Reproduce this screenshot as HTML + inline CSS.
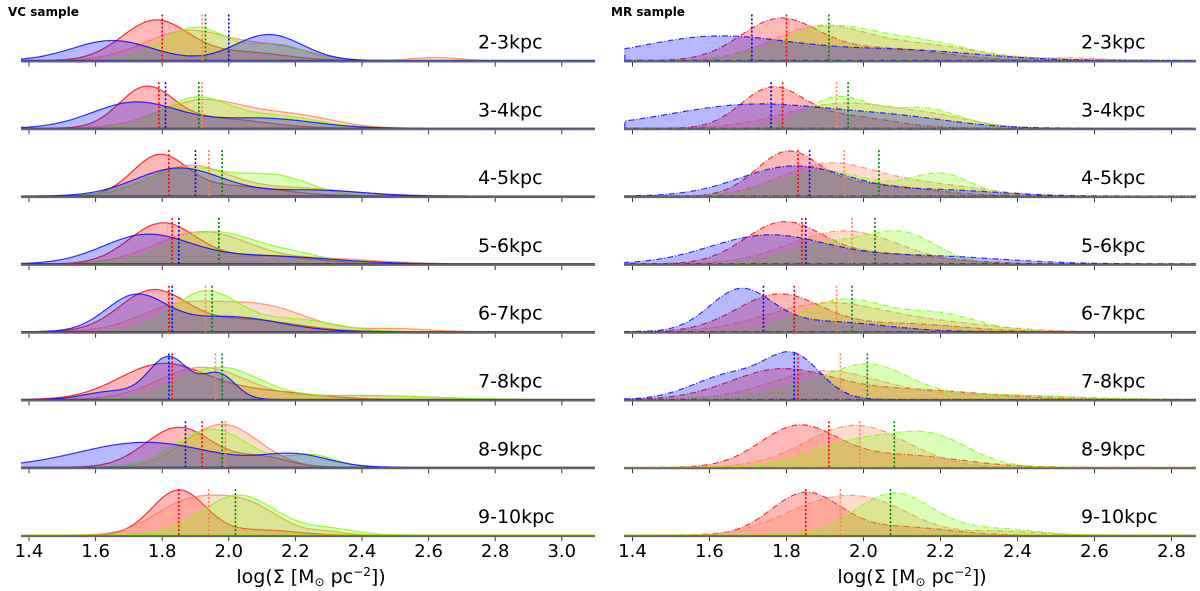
<!DOCTYPE html>
<html><head><meta charset="utf-8"><style>
body{margin:0;background:#fff;}
svg{display:block;font-family:"DejaVu Sans","Liberation Sans",sans-serif;}
</style></head><body>
<svg id="chart" width="1200" height="591" viewBox="0 0 1200 591"></svg>
<script>
// ---- data ----
const rowLabels = ["2-3kpc","3-4kpc","4-5kpc","5-6kpc","6-7kpc","7-8kpc","8-9kpc","9-10kpc"];
const tickLeft = [1.4,1.6,1.8,2.0,2.2,2.4,2.6,2.8,3.0];
const tickRight = [1.4,1.6,1.8,2.0,2.2,2.4,2.6,2.8];
// components per row: [mean, sd, amplitude]
const vcRed = [[[1.78,0.1,40],[2.05,0.12,8]],[[1.75,0.08,38],[1.95,0.15,10]],[[1.79,0.08,38],[2.0,0.15,10]],[[1.8,0.1,40],[2.1,0.15,8]],[[1.77,0.1,40],[2.05,0.15,12]],[[1.8,0.13,35],[2.1,0.15,8]],[[1.85,0.1,40],[2.1,0.08,10]],[[1.85,0.08,45],[2.1,0.1,5]]];
const vcOrange = [[[1.88,0.13,30],[2.15,0.1,12],[2.62,0.07,3]],[[1.92,0.13,28],[2.2,0.12,12]],[[1.88,0.12,30],[2.2,0.15,8]],[[1.92,0.14,32],[2.3,0.15,5]],[[1.85,0.12,25],[2.1,0.13,25],[2.5,0.1,3]],[[1.92,0.13,32],[2.4,0.2,4]],[[1.98,0.11,43]],[[1.87,0.1,30],[2.05,0.1,30],[2.3,0.05,3]]];
const vcGreen = [[[1.9,0.1,33],[2.15,0.08,15]],[[1.9,0.1,30],[2.15,0.12,12]],[[1.88,0.13,28],[2.15,0.1,18]],[[1.95,0.13,32],[2.2,0.1,8]],[[1.93,0.1,40],[2.2,0.12,12]],[[1.97,0.12,32],[2.4,0.2,4]],[[1.95,0.11,38],[2.25,0.07,12]],[[2.03,0.11,40],[2.3,0.08,6]]];
const vcBlue = [[[1.65,0.12,20],[2.12,0.1,26]],[[1.72,0.13,26],[2.1,0.15,10]],[[1.85,0.13,28],[2.25,0.15,6]],[[1.75,0.13,28],[2.1,0.2,8]],[[1.72,0.09,35],[2.0,0.15,15]],[[1.82,0.06,42],[1.97,0.05,25],[1.65,0.08,8]],[[1.75,0.2,25],[2.2,0.1,12]],null];
const vcMedRed = [1.80,1.79,1.82,1.83,1.82,1.83,1.92,1.85];
const vcMedOrange = [1.92,1.92,1.94,1.97,1.93,1.96,1.99,1.94];
const vcMedGreen = [1.93,1.91,1.98,1.97,1.95,1.98,1.98,2.02];
const vcMedBlue = [2.00,1.81,1.90,1.85,1.83,1.82,1.87,null];

const mrRed = [[[1.78,0.1,40],[2.05,0.15,12]],[[1.76,0.08,38],[1.95,0.12,12]],[[1.8,0.08,40],[2.0,0.15,12]],[[1.79,0.1,40],[2.05,0.15,10]],[[1.78,0.11,37],[2.1,0.15,8]],[[1.78,0.13,28],[2.1,0.2,10]],[[1.83,0.1,40],[2.1,0.15,12]],[[1.85,0.09,42],[2.1,0.12,8]]];
const mrOrange = [[[1.88,0.12,32],[2.15,0.15,15],[2.55,0.08,2]],[[1.95,0.15,25],[2.2,0.1,8]],[[1.9,0.12,30],[2.15,0.15,12]],[[1.95,0.14,33]],[[1.9,0.15,28],[2.2,0.15,8]],[[1.9,0.14,28],[2.3,0.2,5]],[[1.98,0.13,42]],[[1.9,0.12,30],[2.05,0.1,20],[2.35,0.1,4]]];
const mrGreen = [[[1.9,0.12,32],[2.15,0.13,18]],[[1.93,0.08,30],[2.15,0.1,20]],[[1.9,0.12,25],[2.2,0.08,22]],[[1.9,0.1,20],[2.1,0.09,30]],[[1.95,0.11,32],[2.2,0.1,17]],[[2.02,0.1,30],[1.85,0.12,10],[2.3,0.2,5]],[[1.98,0.12,25],[2.18,0.1,28]],[[2.08,0.1,42],[2.35,0.1,6]]];
const mrBlue = [[[1.62,0.2,24],[2.1,0.2,10]],[[1.72,0.22,24],[2.1,0.15,8]],[[1.82,0.14,30],[2.2,0.15,6]],[[1.75,0.15,28],[2.15,0.2,8]],[[1.68,0.08,40],[1.9,0.15,10]],[[1.82,0.07,40],[1.66,0.1,25]],null,null];
const mrMedRed = [1.80,1.79,1.83,1.84,1.82,1.83,1.91,1.85];
const mrMedOrange = [1.91,1.93,1.95,1.97,1.93,1.94,1.99,1.94];
const mrMedGreen = [1.91,1.96,2.04,2.03,1.97,2.01,2.08,2.07];
const mrMedBlue = [1.71,1.76,1.86,1.85,1.74,1.82,null,null];

// ---- drawing ----
const NS="http://www.w3.org/2000/svg";
const svg=document.getElementById('chart');
function el(tag,attrs,parent){const e=document.createElementNS(NS,tag);for(const k in attrs)e.setAttribute(k,attrs[k]);(parent||svg).appendChild(e);return e;}
function base(i){return 60.5+i*67.8;}
const colors={red:["#ff0000","#ff0000","#ff0000"],orange:["#ff7f50","#ff7f50","#ff7f50"],green:["#7fff00","#7fff00","#008000"],blue:["#0000ff","#0000ff","#0000ff"]};
function dens(comps,v){let s=0;for(const c of comps)s+=c[2]*Math.exp(-0.5*((v-c[0])/c[1])**2);return s;}

function panel(p){
  const g=el('g',{});
  
  
  const clipId='clip-'+p.name;
  const cp=el('clipPath',{id:clipId},g);
  el('rect',{x:p.x0,y:0,width:p.x1-p.x0,height:591},cp);
  const t=el('text',{x:p.titleX,y:16,'font-size':12,'font-weight':'bold',fill:'#000'},g);
  t.textContent=p.title;
  
  
  const sx=v=>p.xa+(v-1.4)*p.k;
  const series=[['red',p.red,p.medRed],['orange',p.orange,p.medOrange],['green',p.green,p.medGreen],['blue',p.blue,p.medBlue]];
  for(let i=0;i<rowLabels.length;i++){
    const b=base(i);
    const rg=el('g',{'clip-path':'url(#'+clipId+')'},g);
    
    
    for(const [nm,arr,med] of series){
      const comps=arr[i]; if(!comps) continue;
      let d='M'+sx(p.vmin).toFixed(1)+','+b;
      for(let v=p.vmin;v<=p.vmax+1e-9;v+=0.005){d+=' L'+sx(v).toFixed(1)+','+(b-dens(comps,v)).toFixed(1);}
      d+=' L'+sx(p.vmax).toFixed(1)+','+b+' Z';
      const path=el('path',{d:d,fill:colors[nm][0],'fill-opacity':0.28,stroke:colors[nm][1],'stroke-width':1.2,'stroke-opacity':0.8,'stroke-dasharray':p.dash},rg);
      
      
    }
    for(const [nm,arr,med] of series){
      if(med[i]==null) continue;
      const x=sx(med[i]);
      const ln=el('line',{x1:x,x2:x,y1:b,y2:b-46,stroke:colors[nm][2],'stroke-width':1.6,'stroke-dasharray':'2,2'},rg);
      
      
    }
    const ax=el('line',{x1:p.x0,x2:p.x1,y1:b+1,y2:b+1,stroke:'#666',"stroke-width":2},g);
    
    
    for(const tv of p.ticks){
      const tk=el('line',{x1:sx(tv),x2:sx(tv),y1:b+2,y2:b+6,stroke:'#333','stroke-width':1},g);
      
      
    }
    const lb=el('text',{x:p.labelX,y:b-12,'font-size':19,fill:'#000'},g);
    lb.textContent=rowLabels[i];
    
    
  }
  for(const tv of p.ticks){
    const tl=el('text',{x:sx(tv),y:557,'font-size':18,'text-anchor':'middle',fill:'#000'},g);
    tl.textContent=tv.toFixed(1);
    
    
  }
  const xl=el('text',{x:p.xlabelX,y:583,'font-size':19,'text-anchor':'middle',fill:'#000'},g);
  xl.innerHTML='log(Σ [M<tspan font-size="12" dy="3">⊙</tspan><tspan dy="-3"> pc</tspan><tspan font-size="12" dy="-7">−2</tspan><tspan dy="7">])</tspan>';
  
  
}
panel({name:'vc-panel',title:'VC sample',titleX:8,x0:21,x1:595,xa:29,k:333,vmin:1.3,vmax:3.15,ticks:tickLeft,labelX:478,xlabelX:311,dash:'none',
  red:vcRed,orange:vcOrange,green:vcGreen,blue:vcBlue,medRed:vcMedRed,medOrange:vcMedOrange,medGreen:vcMedGreen,medBlue:vcMedBlue});
panel({name:'mr-panel',title:'MR sample',titleX:611,x0:624,x1:1196,xa:632.5,k:385,vmin:1.38,vmax:2.9,ticks:tickRight,labelX:1081,xlabelX:912,dash:'6,2,1,2',
  red:mrRed,orange:mrOrange,green:mrGreen,blue:mrBlue,medRed:mrMedRed,medOrange:mrMedOrange,medGreen:mrMedGreen,medBlue:mrMedBlue});
</script>
</body></html>
